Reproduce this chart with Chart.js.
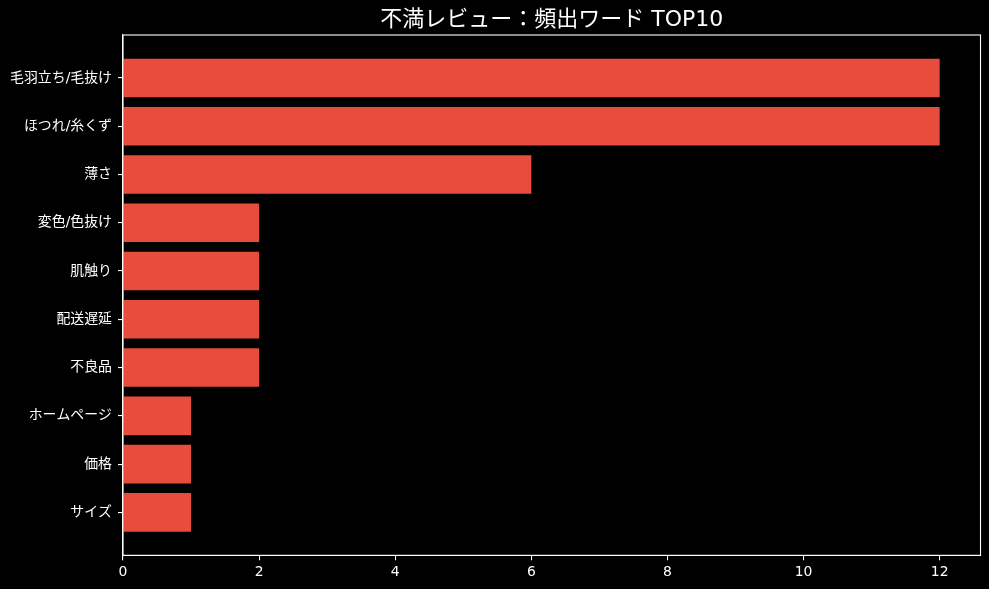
<!DOCTYPE html>
<html>
<head>
<meta charset="utf-8">
<script src="https://cdn.jsdelivr.net/npm/chart.js@4/dist/chart.umd.min.js"></script>
<style>
html,body{margin:0;padding:0;background:#000;}
#wrap{width:989px;height:589px;}
</style>
</head>
<body>
<div id="wrap"><canvas id="c" width="989" height="589"></canvas></div>
<script>
const categories = ["毛羽立ち/毛抜け","ほつれ/糸くず","薄さ","変色/色抜け","肌触り","配送遅延","不良品","ホームページ","価格","サイズ"];
const counts = [12,12,6,2,2,2,2,1,1,1];
const xTicks = [0,2,4,6,8,10,12];
const titleText = "不満レビュー：頻出ワード TOP10";

const FONT = "'DejaVu Sans', 'Noto Sans CJK JP', sans-serif";
Chart.defaults.font.family = FONT;
Chart.defaults.color = "#ffffff";

const frame = {
  id: 'frame',
  afterDatasetsDraw(chart) {
    const a = chart.chartArea, ctx = chart.ctx;
    ctx.save();
    ctx.strokeStyle = '#ffffff';
    ctx.lineWidth = 1.1;
    ctx.strokeRect(a.left, a.top, a.right - a.left, a.bottom - a.top);
    ctx.restore();
  }
};
const bg = {
  id: 'bg',
  beforeDraw(chart) {
    const ctx = chart.ctx;
    ctx.save();
    ctx.fillStyle = '#000';
    ctx.fillRect(0, 0, chart.width, chart.height);
    ctx.restore();
  }
};

new Chart(document.getElementById('c'), {
  type: 'bar',
  data: {
    datasets: [{
      data: counts.map((v, i) => ({x: v, y: i})),
      backgroundColor: '#e74c3c',
      borderWidth: 0,
      barPercentage: 0.8,
      categoryPercentage: 1.0
    }]
  },
  options: {
    indexAxis: 'y',
    responsive: false,
    animation: false,
    layout: {padding: {left: 0, right: 8.5, top: 0, bottom: 4}},
    plugins: {
      legend: {display: false},
      tooltip: {enabled: false},
      title: {
        display: true,
        text: titleText,
        fullSize: false,
        color: '#ffffff',
        font: {size: 22, weight: 'normal', family: FONT, lineHeight: 1.2},
        padding: {top: 7, bottom: 1.6}
      }
    },
    scales: {
      x: {
        type: 'linear',
        min: 0,
        max: 12.6,
        afterBuildTicks: s => { s.ticks = xTicks.map(v => ({value: v})); },
        grid: {display: true, drawOnChartArea: false, drawTicks: true, tickLength: 5, color: '#ffffff', lineWidth: 1.1},
        border: {display: true, color: '#ffffff', width: 1.1},
        ticks: {color: '#ffffff', font: {size: 13.9}, padding: 4, maxRotation: 0}
      },
      y: {
        type: 'linear',
        reverse: true,
        offset: false,
        min: -0.89,
        max: 9.89,
        afterBuildTicks: s => { s.ticks = categories.map((c, i) => ({value: i})); },
        afterFit: s => { s.width = 123; },
        grid: {display: true, offset: false, drawOnChartArea: false, drawTicks: true, tickLength: 5, color: '#ffffff', lineWidth: 1.1},
        border: {display: true, color: '#ffffff', width: 1.1},
        ticks: {color: '#ffffff', font: {size: 13.9}, padding: 6, callback: v => categories[v]}
      }
    }
  },
  plugins: [bg, frame]
});
</script>
</body>
</html>
